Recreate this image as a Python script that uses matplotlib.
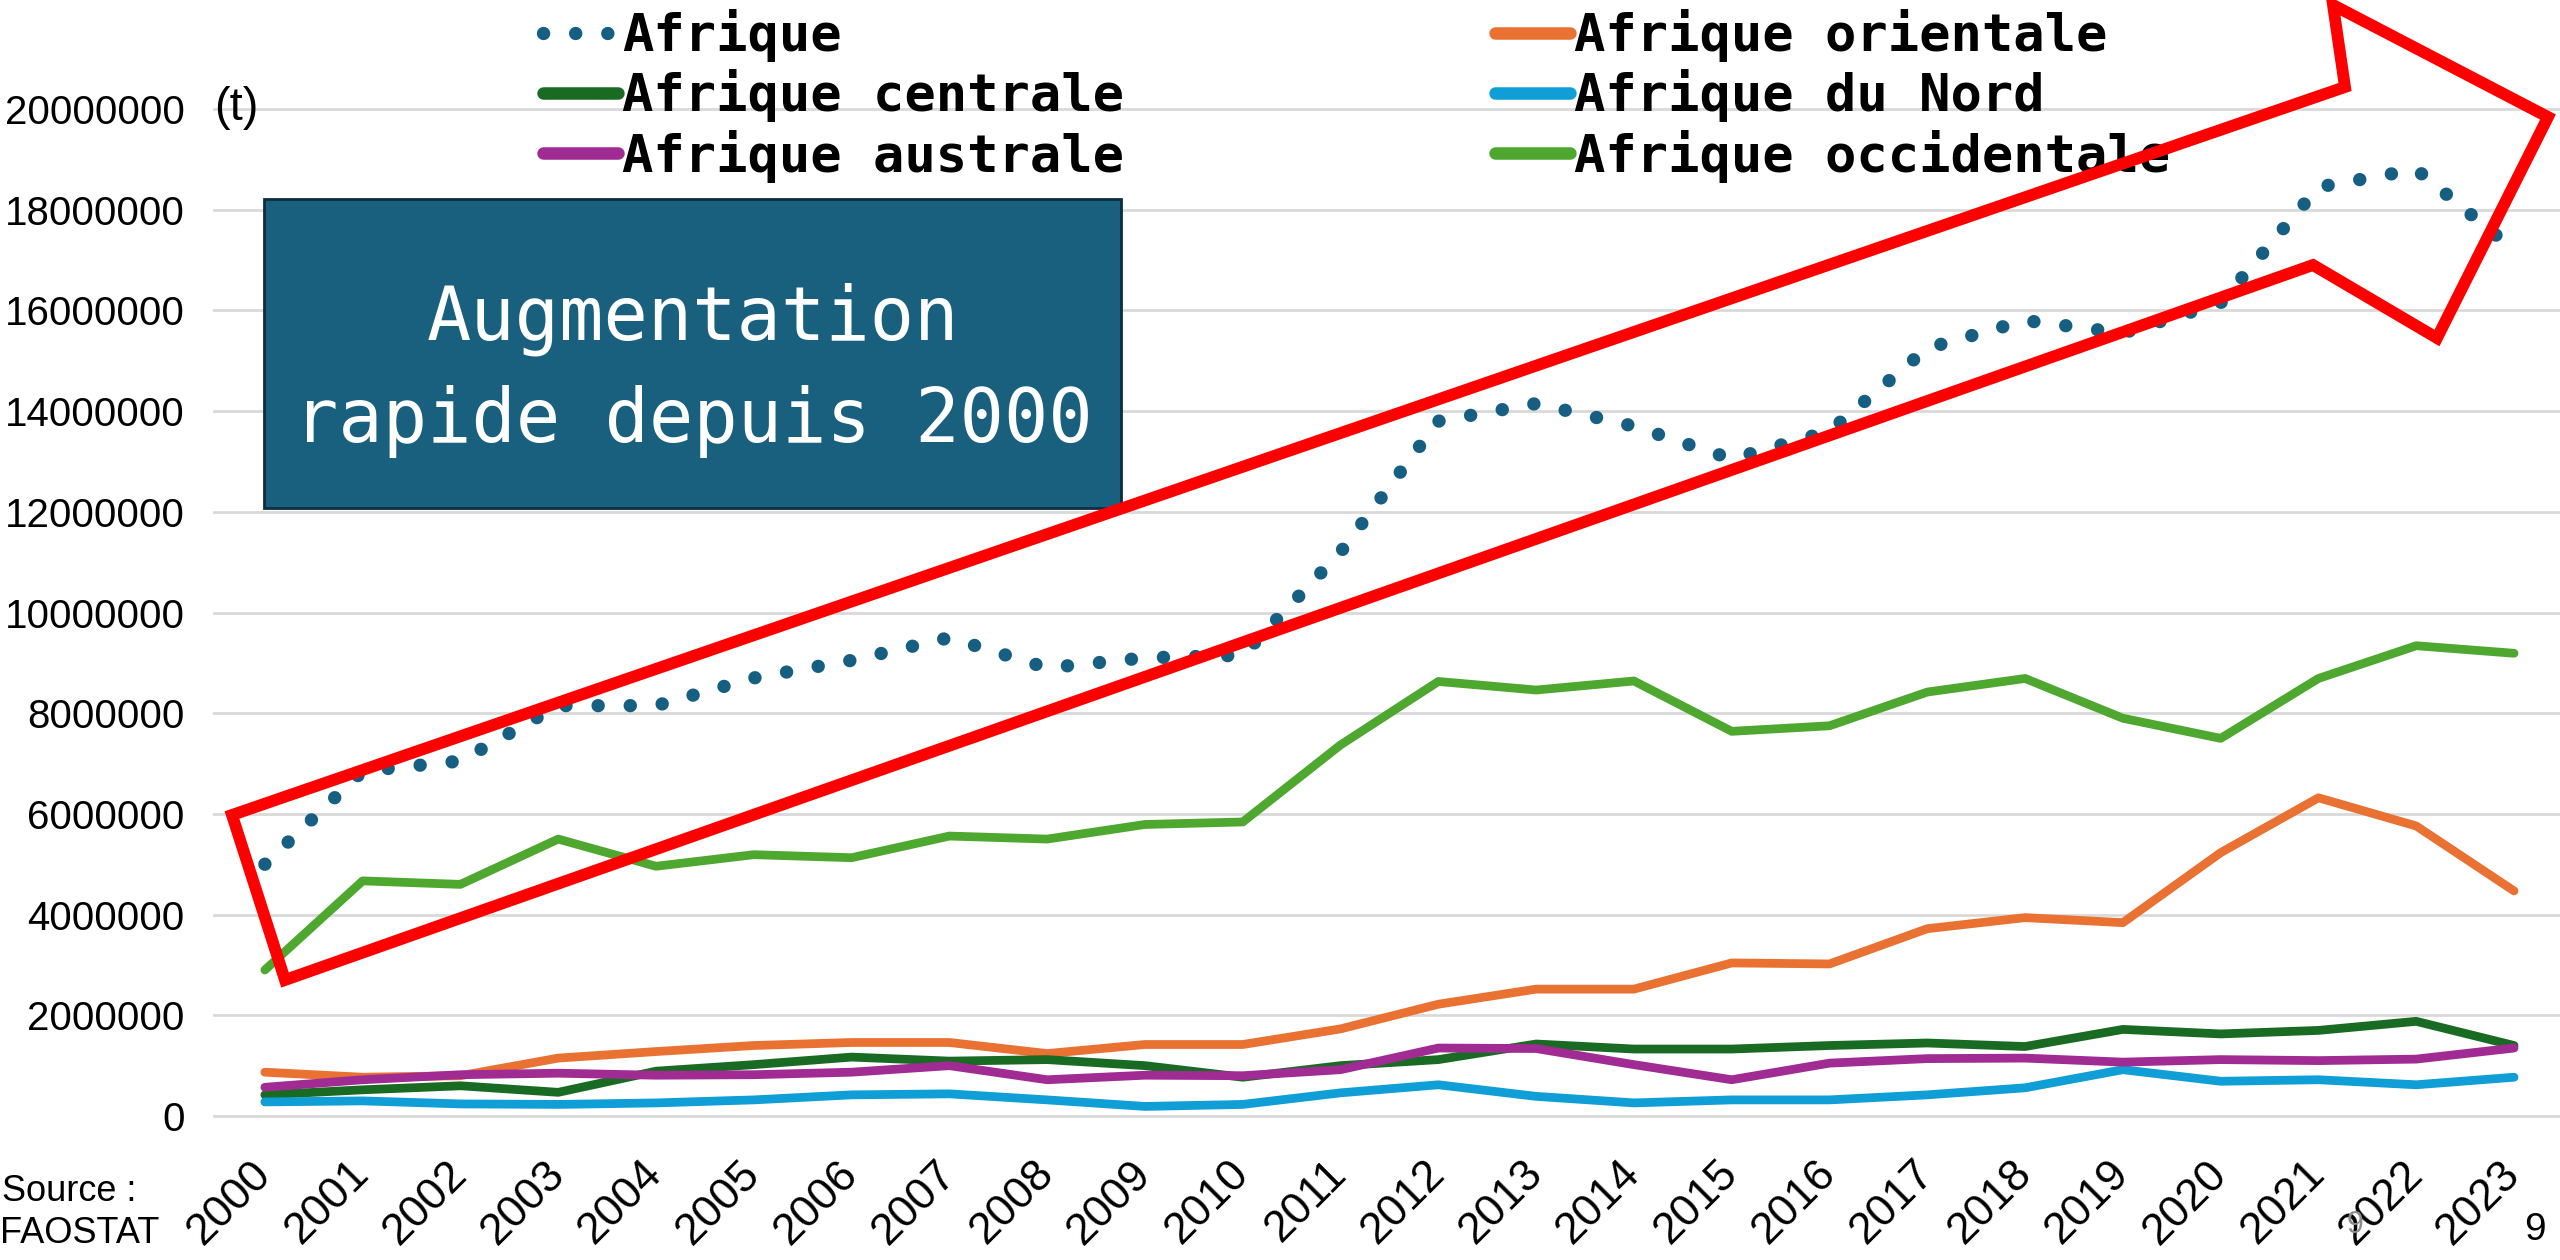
import matplotlib
matplotlib.use("Agg")
import matplotlib.pyplot as plt
import matplotlib.patches as mpatches

plt.rcParams['font.family'] = ['Liberation Sans', 'DejaVu Sans']

annees = [str(a) for a in range(2000, 2024)]
afrique = [5.0, 6.85, 7.05, 8.15, 8.15, 8.7, 9.05, 9.5, 8.9, 9.1, 9.15, 11.2,
           13.8, 14.15, 13.7, 13.05, 13.6, 15.25, 15.8, 15.55, 16.15, 18.45, 18.8, 17.2]
orientale = [0.87, 0.77, 0.8, 1.15, 1.28, 1.4, 1.46, 1.46, 1.24, 1.42, 1.42, 1.73,
             2.22, 2.52, 2.52, 3.04, 3.02, 3.72, 3.94, 3.84, 5.23, 6.32, 5.76, 4.47]
centrale = [0.42, 0.52, 0.6, 0.47, 0.89, 1.02, 1.17, 1.09, 1.12, 1.0, 0.77, 1.0,
            1.12, 1.43, 1.33, 1.33, 1.4, 1.45, 1.38, 1.72, 1.63, 1.7, 1.88, 1.4]
nord = [0.28, 0.3, 0.24, 0.23, 0.26, 0.32, 0.42, 0.44, 0.32, 0.19, 0.23, 0.46,
        0.62, 0.39, 0.26, 0.32, 0.32, 0.42, 0.56, 0.92, 0.69, 0.72, 0.62, 0.77]
australe = [0.57, 0.72, 0.82, 0.85, 0.81, 0.82, 0.87, 1.0, 0.72, 0.81, 0.8, 0.92,
            1.35, 1.34, 1.02, 0.72, 1.05, 1.14, 1.15, 1.07, 1.12, 1.1, 1.13, 1.35]
occidentale = [2.9, 4.67, 4.6, 5.5, 4.96, 5.19, 5.13, 5.56, 5.5, 5.79, 5.84, 7.37,
               8.63, 8.46, 8.64, 7.64, 7.75, 8.42, 8.69, 7.9, 7.5, 8.69, 9.34, 9.19]

noms = ["Afrique", "Afrique orientale", "Afrique centrale",
        "Afrique du Nord", "Afrique australe", "Afrique occidentale"]
series = [afrique, orientale, centrale, nord, australe, occidentale]
couleurs = ["#175F82", "#E97132", "#196B24", "#0F9ED5", "#A02B93", "#4EA72E"]
yticks = list(range(0, 20000001, 2000000))

W, H = 2560, 1260
fig = plt.figure(figsize=(W / 100, H / 100), dpi=100)
ax = fig.add_axes([214 / W, 1 - 1116 / H, 1 - 214 / W, (1116 - 109) / H])

x = list(range(len(annees)))
handles = []
for i, (nom, s, c) in enumerate(zip(noms, series, couleurs)):
    y = [v * 1e6 for v in s]
    if i == 0:
        ln, = ax.plot(x, y, color=c, lw=9.6, linestyle=(0, (0.01, 2.4)),
                      dash_capstyle='round', label=nom, zorder=2)
    else:
        ln, = ax.plot(x, y, color=c, lw=6.3, solid_capstyle='round',
                      label=nom, zorder=2 + i)
    handles.append(ln)

ax.set_xlim(-0.52, 23.47)
ax.set_ylim(0, 20000000)
ax.set_yticks(yticks)
ax.set_yticklabels([str(v) for v in yticks], fontsize=29)
ax.set_xticks(x)
ax.set_xticklabels(annees, fontsize=32, rotation=45, ha='right', va='center',
                   rotation_mode='anchor')
ax.tick_params(axis='y', length=0, pad=21)
ax.tick_params(axis='x', length=0, pad=37)
ax.yaxis.grid(True, color='#d9d9d9', lw=2)
for g in ax.get_ygridlines():
    g.set_clip_on(False)
ax.set_axisbelow(True)
for sp in ax.spines.values():
    sp.set_visible(False)

# légende en deux colonnes
mono = {'family': 'DejaVu Sans Mono', 'size': 37.5, 'weight': 'bold'}
for hs, x0 in [([handles[0], handles[2], handles[4]], 543),
               ([handles[1], handles[3], handles[5]], 1495)]:
    leg = fig.legend(handles=hs, loc='upper left', bbox_to_anchor=(x0 / W, 1 - 9 / H),
                     frameon=False, prop=mono, handlelength=1.44, handletextpad=0.08,
                     labelspacing=0.14, borderpad=0, borderaxespad=0)
    for lh in leg.legend_handles:
        if lh.get_linestyle() == '-':
            lh.set_linewidth(9)

fig.text(236 / W, 1 - 108 / H, "(t)", fontsize=34, ha='center', va='center')

# encadré
fig.add_artist(mpatches.Rectangle((264 / W, 1 - 508 / H), (1121 - 264) / W, (508 - 199) / H,
                                  transform=fig.transFigure, facecolor='#19607F',
                                  edgecolor='#0E2D3E', lw=2, zorder=3))
fig.text(693 / W, 1 - 340 / H, "Augmentation", color='white', family='DejaVu Sans Mono',
         fontsize=53, ha='center', va='baseline', zorder=4)
fig.text(693 / W, 1 - 442 / H, "rapide depuis 2000", color='white', family='DejaVu Sans Mono',
         fontsize=53, ha='center', va='baseline', zorder=4)

# flèche rouge
fleche = [(232, 815), (285, 980), (2313, 265), (2437, 338), (2548, 117),
          (2333, 5), (2345, 87)]
fig.add_artist(mpatches.Polygon([(px / W, 1 - py / H) for px, py in fleche], closed=True,
                                transform=fig.transFigure, fill=False, edgecolor='#FF0000',
                                lw=8.5, joinstyle='miter', zorder=10))

fig.text(2 / W, 1 - 1201 / H, "Source :", fontsize=26, ha='left', va='baseline')
fig.text(0 / W, 1 - 1243 / H, "FAOSTAT", fontsize=26, ha='left', va='baseline')
fig.text(2546 / W, 1 - 1240 / H, "9", fontsize=28, ha='right', va='baseline')
fig.text(2355 / W, 1 - 1233 / H, "9", fontsize=22, color='#8c8c8c', ha='center', va='baseline')

fig.savefig("out.png", dpi=100)
